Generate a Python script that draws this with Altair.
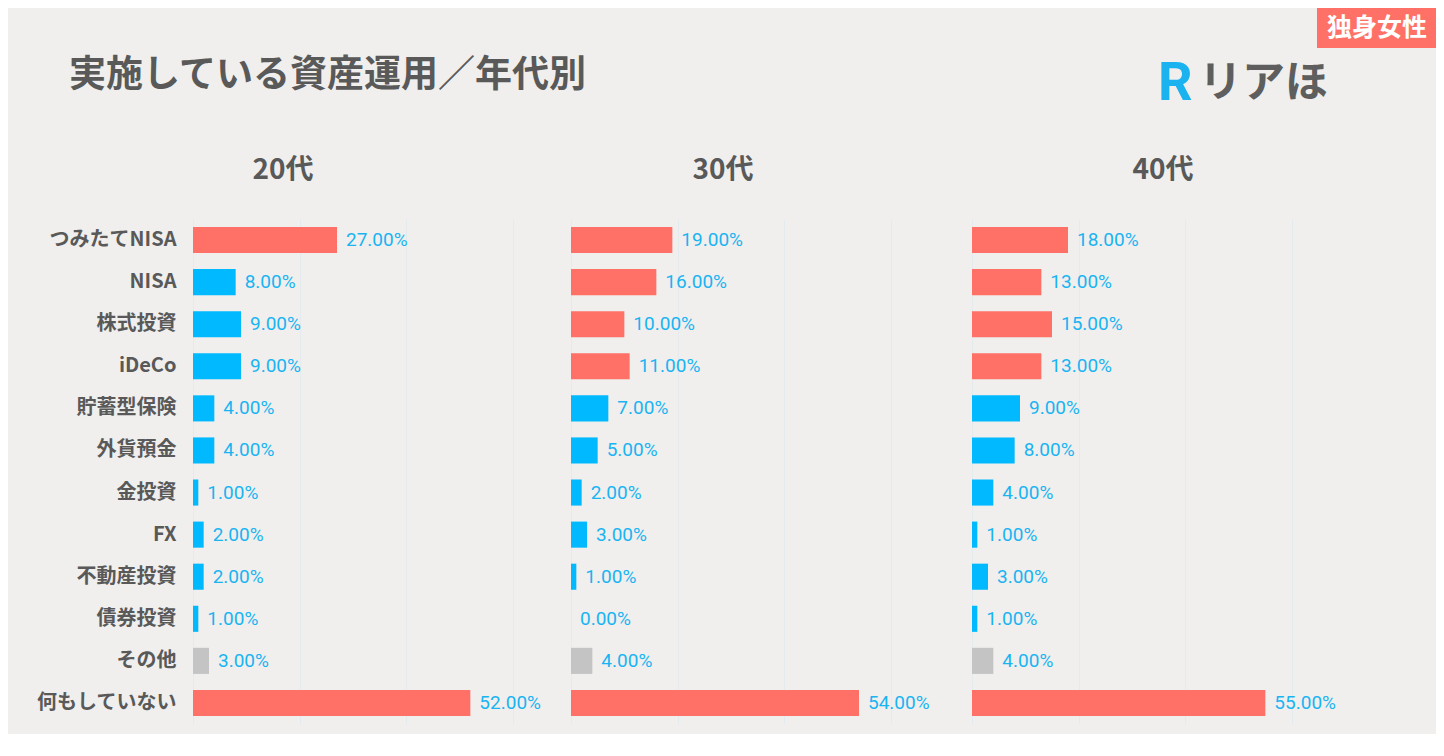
import altair as alt
import pandas as pd

# ---------------- data ----------------
categories = ["つみたてNISA", "NISA", "株式投資", "iDeCo", "貯蓄型保険", "外貨預金",
              "金投資", "FX", "不動産投資", "債券投資", "その他", "何もしていない"]
age_groups = ["20代", "30代", "40代"]
values_20 = [27, 8, 9, 9, 4, 4, 1, 2, 2, 1, 3, 52]
values_30 = [19, 16, 10, 11, 7, 5, 2, 3, 1, 0, 4, 54]
values_40 = [18, 13, 15, 13, 9, 8, 4, 1, 3, 1, 4, 55]
tone_20 = ["hi", "base", "base", "base", "base", "base", "base", "base", "base", "base", "other", "hi"]
tone_30 = ["hi", "hi", "hi", "hi", "base", "base", "base", "base", "base", "base", "other", "hi"]
tone_40 = ["hi", "hi", "hi", "hi", "base", "base", "base", "base", "base", "base", "other", "hi"]
grid_ticks = [0, 20, 40, 60]

title_text = "実施している資産運用／年代別"
logo_mark = "R"
logo_text = "リアほ"
badge_text = "独身女性"

# ---------------- style ----------------
FONT = "Noto Sans CJK JP"
GREY = "#595959"
VALUE_BLUE = "#19b4f2"
BG = "#f0efed"
color_scale = alt.Scale(domain=["hi", "base", "other"], range=["#ff7166", "#00b9fe", "#c4c4c4"])

PANEL_W = 320
PANEL_H = 505


def panel(title, values, tones, show_labels, title_dx):
    df = pd.DataFrame({"item": categories, "v": values, "tone": tones})
    if show_labels:
        y_axis = alt.Axis(title=None, ticks=False, domain=False, labelFont=FONT, labelFontSize=20,
                          labelFontWeight="bold", labelColor=GREY, labelPadding=17, labelLimit=300)
    else:
        y_axis = None
    y_enc = alt.Y("item:N", sort=categories,
                  scale=alt.Scale(paddingInner=0.38, paddingOuter=0.19), axis=y_axis)
    x_enc = alt.X("v:Q", scale=alt.Scale(domain=[0, 60], nice=False),
                  axis=alt.Axis(values=grid_ticks, labels=False, ticks=False, domain=False,
                                title=None, grid=True, gridColor="#e3ebee", gridWidth=1))
    base = alt.Chart(df)
    bars = base.mark_bar().encode(
        x=x_enc, y=y_enc,
        color=alt.Color("tone:N", scale=color_scale, legend=None),
    )
    labels = base.transform_calculate(
        lab="format(datum.v / 100, '.2%')"
    ).mark_text(align="left", baseline="middle", dx=9, font="Roboto", fontSize=19,
                color=VALUE_BLUE).encode(x=x_enc, y=y_enc, text="lab:N")
    return alt.layer(bars, labels).properties(
        width=PANEL_W, height=PANEL_H,
        title=alt.TitleParams(title, font=FONT, fontSize=28, fontWeight="bold", color=GREY,
                              offset=34, anchor="middle", frame="group", dx=title_dx),
    )


p20 = panel(age_groups[0], values_20, tone_20, True, -70)
p30 = panel(age_groups[1], values_30, tone_30, False, -8)
p40 = panel(age_groups[2], values_40, tone_40, False, 31)

panels = alt.hconcat(alt.hconcat(p20, p30, spacing=30), p40, spacing=42)

# ---------------- header (title, logo, badge) ----------------
# header origin sits above the first panel's plot area
HEAD_W = 1243
HEAD_H = 139

title_layer = alt.Chart(pd.DataFrame({"t": [title_text]})).mark_text(
    align="left", baseline="middle", font=FONT, fontSize=37, fontWeight="bold", color=GREY
).encode(x=alt.value(-124), y=alt.value(68), text="t:N")

logo_r = alt.Chart(pd.DataFrame({"t": [logo_mark]})).mark_text(
    align="left", baseline="middle", font="Roboto", fontSize=54, fontWeight="bold", color="#1ab3f0"
).encode(x=alt.value(965), y=alt.value(76), text="t:N")

logo_t = alt.Chart(pd.DataFrame({"t": [logo_text]})).mark_text(
    align="left", baseline="middle", font=FONT, fontSize=43, fontWeight="bold", color="#5e5e5e"
).encode(x=alt.value(1006), y=alt.value(76), text="t:N")

badge_rect = alt.Chart(pd.DataFrame({"t": [badge_text]})).mark_rect(color="#ff7166").encode(
    x=alt.value(1124), x2=alt.value(1243), y=alt.value(0), y2=alt.value(40)
)
badge_label = alt.Chart(pd.DataFrame({"t": [badge_text]})).mark_text(
    align="center", baseline="middle", font=FONT, fontSize=25, fontWeight="bold", color="white"
).encode(x=alt.value(1184), y=alt.value(20), text="t:N")

header = alt.layer(title_layer, logo_r, logo_t, badge_rect, badge_label).properties(
    width=HEAD_W, height=HEAD_H
)

chart = alt.vconcat(header, panels, spacing=10).properties(
    padding={"left": 28, "top": 0, "right": 0, "bottom": 10}
).configure(background=BG).configure_view(stroke=None)

chart.save("out.html", embed_options={"renderer": "svg", "actions": False})
